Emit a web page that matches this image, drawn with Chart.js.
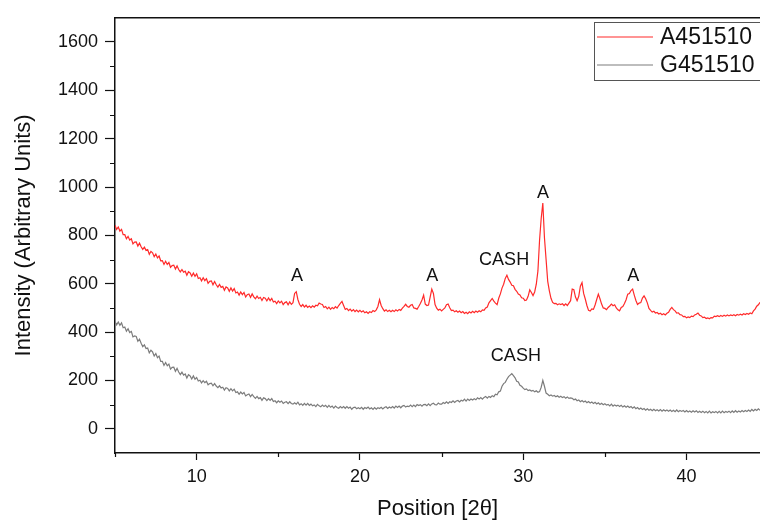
<!DOCTYPE html>
<html>
<head>
<meta charset="utf-8">
<script src="https://cdn.jsdelivr.net/npm/chart.js@4.4.1/dist/chart.umd.min.js"></script>
<style>
  html, body { margin: 0; padding: 0; background: #fff; }
  #wrap { width: 760px; height: 524px; position: relative; }
</style>
</head>
<body>
<div id="wrap"><canvas id="chart"></canvas></div>
<script>
// XRD scan: 2θ from 5° in 0.1° steps
const scanStart = 5;
const scanStep = 0.1;

// A451510 intensity, one row per degree
const intensityA = [
  842, 825, 835, 818, 825, 803, 803, 786, 796, 781,   // 5
  786, 765, 772, 773, 756, 768, 753, 742, 751, 738,   // 6
  741, 722, 734, 728, 712, 723, 707, 715, 695, 696,   // 7
  680, 693, 680, 688, 668, 675, 677, 661, 674, 659,   // 8
  649, 659, 648, 652, 635, 650, 645, 631, 644, 631,   // 9
  641, 622, 625, 612, 625, 613, 621, 602, 610, 612,   // 10
  596, 609, 596, 586, 597, 585, 589, 573, 587, 583,   // 11
  569, 583, 570, 580, 562, 566, 553, 566, 555, 564,   // 12
  545, 555, 558, 544, 558, 546, 538, 549, 539, 544,   // 13
  531, 543, 540, 529, 541, 530, 539, 525, 528, 518,   // 14
  529, 521, 528, 514, 522, 525, 513, 525, 515, 522,   // 15
  560, 567, 535, 515, 506, 514, 504, 511, 502, 508,   // 16
  501, 509, 503, 511, 509, 520, 516, 514, 502, 506,   // 17
  496, 503, 494, 502, 497, 505, 499, 510, 519, 527,   // 18
  510, 494, 498, 489, 495, 487, 493, 485, 491, 484,   // 19
  490, 483, 488, 480, 484, 477, 484, 481, 489, 485,   // 20
  492, 506, 534, 510, 497, 487, 492, 485, 490, 484,   // 21
  490, 485, 492, 487, 494, 490, 499, 506, 515, 506,   // 22
  503, 511, 514, 500, 498, 495, 506, 518, 533, 553,   // 23
  516, 510, 512, 545, 578, 560, 514, 499, 491, 495,   // 24
  488, 494, 500, 513, 516, 501, 489, 491, 484, 488,   // 25
  482, 487, 480, 485, 477, 482, 476, 484, 479, 486,   // 26
  480, 487, 482, 488, 484, 492, 490, 500, 504, 521,   // 27
  530, 539, 528, 520, 514, 540, 558, 582, 598, 622,   // 28
  635, 618, 607, 594, 592, 577, 569, 557, 554, 542,   // 29
  540, 531, 533, 548, 575, 564, 551, 566, 598, 653,   // 30
  780, 870, 934, 790, 700, 610, 571, 540, 523, 518,   // 31
  519, 513, 517, 514, 517, 510, 517, 510, 520, 530,   // 32
  578, 575, 545, 530, 548, 590, 605, 560, 537, 510,   // 33
  490, 487, 496, 494, 512, 535, 557, 538, 516, 500,   // 34
  498, 493, 502, 508, 516, 509, 513, 500, 492, 488,   // 35
  502, 506, 518, 534, 557, 560, 572, 578, 553, 531,   // 36
  514, 520, 522, 541, 550, 538, 521, 498, 490, 483,   // 37
  486, 479, 481, 475, 478, 472, 476, 471, 478, 482,   // 38
  494, 502, 493, 488, 479, 480, 472, 471, 464, 465,   // 39
  459, 463, 460, 466, 464, 471, 474, 479, 470, 467,   // 40
  460, 462, 456, 459, 455, 460, 459, 466, 464, 468,   // 41
  464, 469, 465, 470, 466, 471, 467, 471, 468, 472,   // 42
  468, 473, 470, 474, 471, 476, 473, 477, 474, 479,   // 43
  476, 488, 495, 507, 513, 523                        // 44
];

// G451510 intensity, same grid
const intensityG = [
  444, 430, 442, 428, 438, 418, 421, 404, 414, 398,   // 5
  403, 380, 384, 382, 362, 371, 354, 340, 347, 332,   // 6
  334, 314, 325, 318, 301, 311, 294, 301, 279, 279,   // 7
  262, 274, 261, 268, 247, 254, 255, 238, 250, 235,   // 8
  224, 234, 222, 227, 210, 224, 219, 206, 219, 205,   // 9
  212, 198, 201, 190, 199, 191, 197, 182, 187, 189,   // 10
  178, 187, 177, 170, 178, 169, 172, 160, 170, 167,   // 11
  157, 166, 157, 164, 150, 153, 143, 152, 144, 150,   // 12
  136, 141, 144, 133, 142, 133, 126, 134, 125, 129,   // 13
  118, 128, 125, 117, 125, 118, 125, 113, 116, 108,   // 14
  116, 110, 115, 105, 110, 112, 104, 112, 105, 102,   // 15
  108, 102, 110, 99, 104, 97, 105, 98, 105, 97,       // 16
  102, 95, 99, 92, 101, 95, 91, 98, 92, 97,           // 17
  89, 97, 89, 94, 86, 94, 88, 85, 92, 86,             // 18
  92, 85, 92, 85, 90, 81, 88, 90, 83, 87,             // 19
  83, 89, 81, 88, 84, 90, 82, 87, 80, 88,             // 20
  81, 87, 84, 89, 82, 88, 91, 84, 90, 86,             // 21
  92, 86, 94, 88, 94, 87, 94, 97, 90, 94,             // 22
  92, 98, 92, 98, 92, 100, 96, 100, 94, 100,          // 23
  101, 96, 103, 96, 103, 106, 100, 99, 107, 102,      // 24
  102, 109, 105, 112, 105, 112, 109, 116, 109, 115,   // 25
  117, 111, 118, 115, 123, 115, 123, 117, 123, 119,   // 26
  124, 120, 128, 123, 129, 123, 130, 134, 127, 134,   // 27
  130, 137, 133, 143, 141, 153, 156, 176, 187, 192,   // 28
  205, 216, 222, 228, 220, 211, 197, 194, 180, 176,   // 29
  168, 162, 165, 158, 161, 156, 159, 153, 157, 151,   // 30
  154, 172, 200, 176, 148, 143, 137, 140, 135, 138,   // 31
  133, 137, 131, 135, 129, 133, 127, 132, 126, 128,   // 32
  126, 120, 123, 116, 119, 112, 117, 111, 115, 108,   // 33
  113, 107, 111, 105, 110, 103, 108, 101, 106, 100,   // 34
  104, 98, 101, 95, 102, 94, 99, 94, 98, 92,          // 35
  97, 90, 95, 89, 94, 88, 92, 85, 91, 83,             // 36
  88, 81, 86, 80, 84, 77, 83, 77, 81, 75,             // 37
  81, 75, 79, 74, 80, 73, 79, 74, 78, 73,             // 38
  78, 72, 77, 71, 78, 71, 76, 72, 76, 70,             // 39
  76, 70, 74, 69, 75, 70, 75, 68, 73, 68,             // 40
  73, 67, 72, 66, 73, 66, 71, 67, 72, 66,             // 41
  72, 66, 73, 67, 72, 68, 73, 67, 74, 68,             // 42
  75, 69, 74, 70, 76, 71, 76, 72, 78, 72,             // 43
  80, 74, 81, 76, 83, 77                              // 44
];

const seriesNames = ["A451510", "G451510"];
const seriesColors = ["#ff2a2a", "#7c7c7c"];

const xTicks = [10, 20, 30, 40];
const xMinorTicks = [5, 15, 25, 35];
const yTicks = [0, 200, 400, 600, 800, 1000, 1200, 1400, 1600];
const yMinorTicks = [100, 300, 500, 700, 900, 1100, 1300, 1500];

// phase labels: text, 2θ, intensity at text centre
const peakLabels = ["A", "A", "CASH", "A", "A", "CASH"];
const peakLabelX = [16.15, 24.43, 28.83, 31.21, 36.74, 29.55];
const peakLabelY = [632, 634, 698, 974, 634, 299];

const twoTheta = intensityA.map((_, i) => +(scanStart + i * scanStep).toFixed(1));
const FONT = "'Liberation Sans', Arial, sans-serif";
const INK = "#111";

const extras = {
  id: "extras",
  afterDraw(chart) {
    const { ctx, chartArea: area, scales: { x, y } } = chart;
    ctx.save();

    // top frame line
    ctx.strokeStyle = INK;
    ctx.lineWidth = 1.5;
    ctx.beginPath();
    ctx.moveTo(area.left, area.top);
    ctx.lineTo(area.right, area.top);
    ctx.stroke();

    // minor ticks
    ctx.lineWidth = 1.2;
    ctx.beginPath();
    xMinorTicks.forEach(v => {
      const px = Math.round(x.getPixelForValue(v)) + 0.5;
      ctx.moveTo(px, area.bottom);
      ctx.lineTo(px, area.bottom + 4);
    });
    yMinorTicks.forEach(v => {
      const py = Math.round(y.getPixelForValue(v)) + 0.5;
      ctx.moveTo(area.left, py);
      ctx.lineTo(area.left - 5, py);
    });
    ctx.stroke();

    // phase labels
    ctx.fillStyle = INK;
    ctx.font = "18px " + FONT;
    ctx.textAlign = "center";
    ctx.textBaseline = "middle";
    peakLabels.forEach((t, i) => {
      ctx.fillText(t, x.getPixelForValue(peakLabelX[i]), y.getPixelForValue(peakLabelY[i]));
    });

    // legend box
    ctx.strokeStyle = "#555";
    ctx.lineWidth = 1;
    ctx.strokeRect(594.5, 22.5, 220, 58);
    ctx.font = "23px " + FONT;
    ctx.textAlign = "left";
    seriesNames.forEach((name, i) => {
      const ly = 37 + i * 28;
      ctx.strokeStyle = seriesColors[i];
      ctx.lineWidth = 1.2;
      ctx.beginPath();
      ctx.moveTo(597, ly);
      ctx.lineTo(653, ly);
      ctx.stroke();
      ctx.fillStyle = INK;
      ctx.fillText(name, 660, ly + 1);
    });
    ctx.restore();
  }
};

function renderChart() {
  const ctx = document.getElementById("chart").getContext("2d");
  new Chart(ctx, {
    type: "line",
    data: {
      datasets: seriesNames.map((name, s) => ({
        label: name,
        data: twoTheta.map((t, i) => ({ x: t, y: (s === 0 ? intensityA : intensityG)[i] })),
        borderColor: seriesColors[s],
        borderWidth: 1.2,
        pointRadius: 0,
        tension: 0
      }))
    },
    options: {
      responsive: true,
      maintainAspectRatio: false,
      animation: false,
      layout: { padding: { top: 16, right: 0, left: 0, bottom: 0 } },
      plugins: {
        legend: { display: false },
        tooltip: { enabled: false }
      },
      scales: {
        x: {
          type: "linear",
          min: 5,
          max: 44.5,
          afterBuildTicks: s => { s.ticks = xTicks.map(v => ({ value: v })); },
          afterFit: s => { s.height = 71; },
          ticks: { color: INK, font: { family: FONT, size: 18 }, padding: 6, maxRotation: 0, callback: v => String(v) },
          grid: { drawOnChartArea: false, tickLength: 7, color: INK, tickWidth: 1.2 },
          border: { color: INK, width: 1.5 },
          title: {
            display: true,
            text: "Position [2θ]",
            color: INK,
            font: { family: FONT, size: 22 },
            padding: { top: 0, bottom: 2 }
          }
        },
        y: {
          min: -100,
          max: 1700,
          afterBuildTicks: s => { s.ticks = yTicks.map(v => ({ value: v })); },
          afterFit: s => { s.width = 115; },
          ticks: { color: INK, font: { family: FONT, size: 18 }, padding: 7, callback: v => String(v) },
          grid: { drawOnChartArea: false, tickLength: 10, color: INK, tickWidth: 1.2 },
          border: { color: INK, width: 1.5 },
          title: {
            display: true,
            text: "Intensity (Arbitrary Units)",
            color: INK,
            font: { family: FONT, size: 22 },
            padding: { top: 11, bottom: 0 }
          }
        }
      }
    },
    plugins: [extras]
  });
}

document.addEventListener("DOMContentLoaded", renderChart);
</script>
</body>
</html>
